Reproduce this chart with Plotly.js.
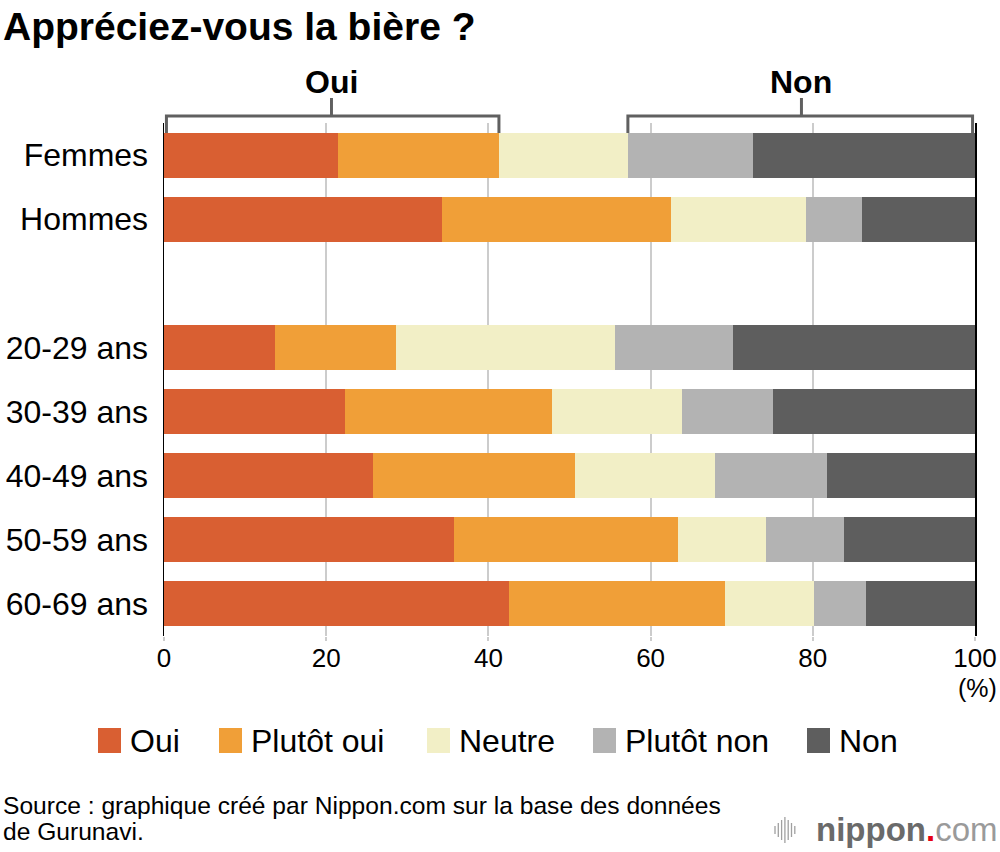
<!DOCTYPE html>
<html>
<head>
<meta charset="utf-8">
<script src="https://cdn.plot.ly/plotly-3.0.1.min.js"></script>
<style>
  html, body { margin: 0; padding: 0; background: #fff; }
  #chart { width: 1000px; height: 852px; }
</style>
</head>
<body>
<div id="chart"></div>
<script>
// ---- Data ----
const rows = ['Femmes', 'Hommes', '', '20-29 ans', '30-39 ans', '40-49 ans', '50-59 ans', '60-69 ans'];
const seriesNames = ['Oui', 'Plutôt oui', 'Neutre', 'Plutôt non', 'Non'];
const oui       = [21.5, 34.3, null, 13.7, 22.3, 25.8, 35.8, 42.5];
const plutotOui = [19.8, 28.2, null, 14.9, 25.6, 24.9, 27.6, 26.7];
const neutre    = [15.9, 16.7, null, 27.0, 16.0, 17.2, 10.8, 10.9];
const plutotNon = [15.4,  6.9, null, 14.5, 11.2, 13.8,  9.7,  6.5];
const non       = [27.4, 13.9, null, 29.9, 24.9, 18.3, 16.1, 13.4];
const xTicks = [0, 20, 40, 60, 80, 100];

// ---- Styles ----
const seriesValues = [oui, plutotOui, neutre, plutotNon, non];
const colors = ['#D95F32', '#F09F38', '#F2EFC6', '#B3B3B3', '#5E5E5E'];
const FONT = 'Liberation Sans, Arial, Helvetica, sans-serif';

const W = 1000, H = 852;
const M = { l: 164, r: 25, t: 123, b: 216 };
const plotW = W - M.l - M.r, plotH = H - M.t - M.b;
const px2x = px => (px - M.l) / plotW;          // pixel -> paper x
const py2y = py => (H - M.b - py) / plotH;      // pixel -> paper y

const yIdx = rows.map((_, i) => i);

const traces = seriesValues.map((vals, k) => ({
  type: 'bar',
  orientation: 'h',
  name: seriesNames[k],
  y: yIdx,
  x: vals,
  marker: { color: colors[k], line: { width: 0 } },
  hoverinfo: 'x+name',
  showlegend: false
}));

// ---- Brackets "Oui" / "Non" derived from the Femmes row ----
const shapes = [];
const annotations = [];
const ouiEnd = oui[0] + plutotOui[0];
const nonStart = oui[0] + plutotOui[0] + neutre[0];
const brackets = [
  { label: 'Oui', x0: 0, x1: ouiEnd },
  { label: 'Non', x0: nonStart, x1: 100 }
];
const bTop = py2y(116), bBot = py2y(133), bTick = py2y(98);
const bLine = { color: '#606060', width: 3 };
brackets.forEach(b => {
  const inset = 0.3;
  const xa = b.x0 + (b.x0 === 0 ? inset : 0);
  const xb = b.x1 - (b.x1 === 100 ? inset : 0);
  const mid = (b.x0 + b.x1) / 2;
  shapes.push({ type: 'path', xref: 'x', yref: 'paper',
    path: `M ${xa} ${bBot} L ${xa} ${bTop} L ${xb} ${bTop} L ${xb} ${bBot}`,
    line: bLine });
  shapes.push({ type: 'line', xref: 'x', yref: 'paper', x0: mid, x1: mid, y0: bTop, y1: bTick, line: bLine });
  annotations.push({ xref: 'x', yref: 'paper', x: mid, y: py2y(82), text: '<b>' + b.label + '</b>',
    showarrow: false, xanchor: 'center', yanchor: 'middle', font: { family: FONT, size: 32, color: '#000' } });
});

// ---- Custom legend ----
const legendPos = [98, 219, 427, 593, 807];
seriesNames.forEach((n, k) => {
  const x0 = legendPos[k];
  shapes.push({ type: 'rect', xref: 'paper', yref: 'paper',
    x0: px2x(x0), x1: px2x(x0 + 23), y0: py2y(753), y1: py2y(728),
    fillcolor: colors[k], line: { width: 0 } });
  annotations.push({ xref: 'paper', yref: 'paper', x: px2x(x0 + 30), y: py2y(741), text: n,
    showarrow: false, xanchor: 'left', yanchor: 'middle', font: { family: FONT, size: 32, color: '#000' } });
});

// ---- (%) unit ----
annotations.push({ xref: 'paper', yref: 'paper', x: px2x(999), y: py2y(688), text: '(%)',
  showarrow: false, xanchor: 'right', yanchor: 'middle', font: { family: FONT, size: 25, color: '#000' } });

// ---- Source ----
const sourceLines = ['Source : graphique créé par Nippon.com sur la base des données', 'de Gurunavi.'];
sourceLines.forEach((t, i) => {
  annotations.push({ xref: 'paper', yref: 'paper', x: px2x(1), y: py2y(805 + i * 26), align: 'left',
    text: t, showarrow: false, xanchor: 'left', yanchor: 'middle',
    font: { family: FONT, size: 24.6, color: '#000' } });
});

// ---- nippon.com logo ----
annotations.push({ xref: 'paper', yref: 'paper', x: px2x(999), y: py2y(829),
  text: '<b><span style="color:#6a6a6a">nippon</span><span style="color:#e60012">.</span></b><span style="color:#9a9a9a">com</span>',
  showarrow: false, xanchor: 'right', yanchor: 'middle', font: { family: FONT, size: 33, color: '#6a6a6a' } });
const barsH = [8, 14, 20, 26, 20, 14, 8];
barsH.forEach((h, i) => {
  const cx = 775 + i * 3.3;
  shapes.push({ type: 'line', xref: 'paper', yref: 'paper', x0: px2x(cx), x1: px2x(cx),
    y0: py2y(830 - h / 2), y1: py2y(830 + h / 2), line: { color: '#a0a0a0', width: 1.3 } });
});

const layout = {
  width: W, height: H,
  margin: M,
  paper_bgcolor: '#fff', plot_bgcolor: '#fff',
  barmode: 'stack',
  bargap: 0.3,
  showlegend: false,
  font: { family: FONT, color: '#000' },
  title: {
    text: '<b>Appréciez-vous la bière ?</b>',
    x: 0.003, xref: 'container', xanchor: 'left',
    y: 1 - 26 / H, yref: 'container', yanchor: 'middle',
    font: { family: FONT, size: 39, color: '#000' }
  },
  xaxis: {
    range: [0, 100],
    tickvals: xTicks,
    ticktext: xTicks.map(String),
    showgrid: true, gridcolor: '#cccccc', gridwidth: 2,
    zeroline: false,
    showline: false,
    ticks: 'outside', ticklen: 4, tickwidth: 2, tickcolor: '#cccccc',
    ticklabelstandoff: -5,
    tickfont: { family: FONT, size: 26, color: '#000' },
    fixedrange: true
  },
  yaxis: {
    range: [rows.length - 0.5, -0.5],
    tickvals: yIdx,
    ticktext: rows,
    showgrid: false,
    zeroline: false,
    showline: true, mirror: true, linecolor: '#000', linewidth: 1.5,
    ticks: '', ticklabelstandoff: 8,
    tickfont: { family: FONT, size: 32, color: '#000' },
    fixedrange: true
  },
  shapes: shapes,
  annotations: annotations
};

Plotly.newPlot('chart', traces, layout, { displayModeBar: false, staticPlot: true });
</script>
</body>
</html>
